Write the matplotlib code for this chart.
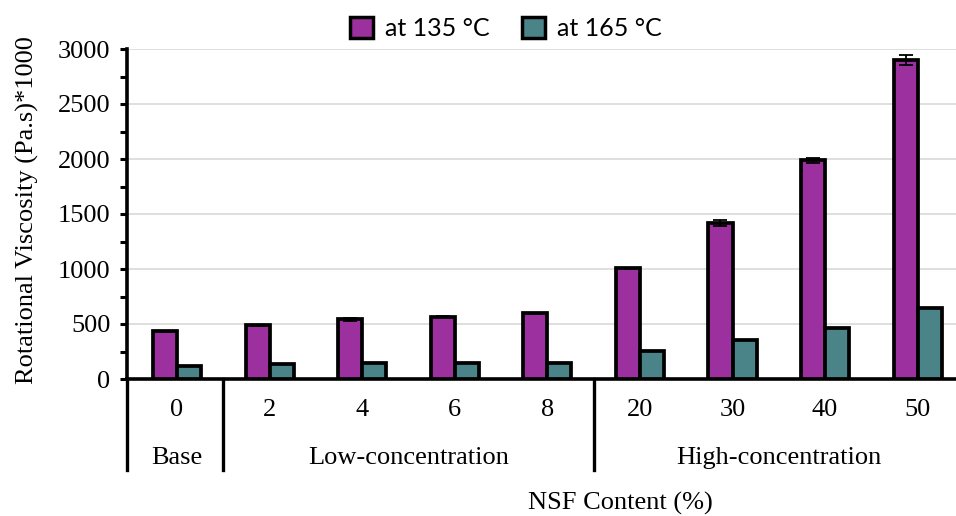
import numpy as np
import matplotlib
matplotlib.use("Agg")
import matplotlib.pyplot as plt
from matplotlib.patches import Patch

## data
labels = ['0', '2', '4', '6', '8', '20', '30', '40', '50']
groups = ['Base', 'Low-concentration', 'High-concentration']
group_span = [(0, 0), (1, 4), (5, 8)]
v135 = [432, 488, 542, 565, 598, 1005, 1420, 1988, 2900]
v165 = [115, 132, 143, 143, 150, 258, 357, 465, 648]
err135 = [4, 5, 14, 5, 5, 5, 28, 20, 42]
err165 = [1, 1, 2, 2, 2, 2, 3, 3, 3]

purple = '#9B309E'
teal = '#4A8388'
serif = ['Liberation Serif', 'DejaVu Serif']
fs = 19

fig = plt.figure(figsize=(9.56, 5.16), dpi=100)
ax = fig.add_axes([127/956, 1-379/516, 837/956, 330/516])

x = np.arange(len(labels))
w = 0.26
ax.bar(x - w/2, v135, w, color=purple, edgecolor='black', linewidth=2.7, zorder=3,
       yerr=err135, error_kw=dict(ecolor='black', elinewidth=1.3, capsize=5, capthick=1.3, zorder=4))
ax.bar(x + w/2, v165, w, color=teal, edgecolor='black', linewidth=2.7, zorder=3,
       yerr=err165, error_kw=dict(ecolor='black', elinewidth=1.0, capsize=0, zorder=4))

ax.set_xlim(-0.54, 8.5)
ax.set_ylim(0, 3000)
ax.set_yticks(np.arange(0, 3001, 500))
ax.set_yticks(np.arange(250, 3000, 500), minor=True)
ax.yaxis.grid(True, color='#D9D9D9', linewidth=1.2, zorder=0)
ax.set_xticks([])
for lab in ax.get_yticklabels():
    lab.set_family(serif)
    lab.set_fontsize(fs)
ax.tick_params(axis='y', which='major', length=5, width=2.2, pad=7)
ax.tick_params(axis='y', which='minor', length=5, width=2.2)

for s in ['top', 'right']:
    ax.spines[s].set_visible(False)
ax.spines['left'].set_linewidth(2.6)
ax.spines['bottom'].set_linewidth(2.6)

trans = ax.get_xaxis_transform()
# category labels
for xi, lab in zip(x, labels):
    ax.text(xi, -0.094, lab, transform=trans, ha='center', va='center',
            fontsize=fs, family=serif)
# group labels and separators
for g, (a, b) in zip(groups, group_span):
    ax.text((a + b)/2, -0.239, g, transform=trans, ha='center', va='center',
            fontsize=fs, family=serif)
for sep in [-0.54, 0.5, 4.5]:
    ax.plot([sep, sep], [0, -0.276], transform=trans, color='black',
            linewidth=2.4, clip_on=False)

fig.text(620/956, 1-503/516, 'NSF Content (%)', ha='center', va='center',
         fontsize=fs, family=serif)
fig.text(27/956, 1-210/516, 'Rotational Viscosity (Pa.s)*1000', rotation=90,
         ha='center', va='center', fontsize=fs, family=serif)

handles = [Patch(facecolor=purple, edgecolor='black', linewidth=2.5, label='at 135 °C'),
           Patch(facecolor=teal, edgecolor='black', linewidth=2.5, label='at 165 °C')]
fig.legend(handles=handles, loc='upper center', bbox_to_anchor=(506/956, 1.01), ncol=2,
           frameon=False, prop={'family': 'Lato', 'size': 18}, handlelength=0.9,
           handleheight=0.9, handletextpad=0.5, columnspacing=1.3)

fig.savefig('out.png', dpi=100)
